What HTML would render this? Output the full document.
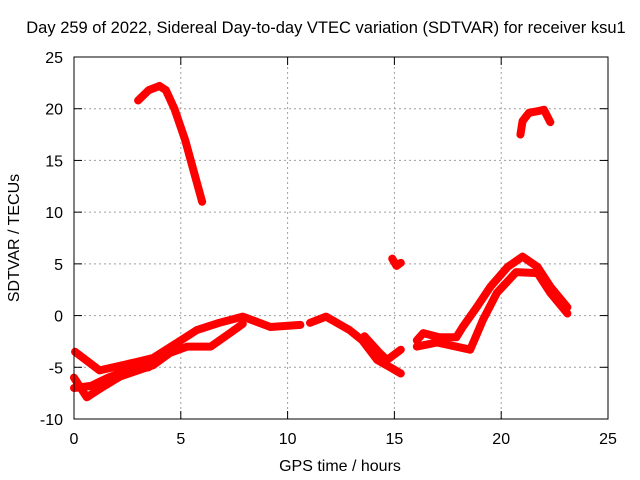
<!DOCTYPE html>
<html><head><meta charset="utf-8"><style>
body{margin:0;background:#fff}
svg{display:block;font-family:"Liberation Sans",sans-serif}
</style></head><body>
<svg id="chart" width="640" height="480" viewBox="0 0 640 480">
<rect width="640" height="480" fill="#fff"/>
<text x="326" y="33" font-size="16.5" text-anchor="middle">Day 259 of 2022, Sidereal Day-to-day VTEC variation (SDTVAR) for receiver ksu1</text>
<g id="grid"></g>
<g id="series"></g>
<rect x="74" y="57" width="534" height="362" fill="none" stroke="#000" stroke-width="1"/>
<g id="ticks"></g>
<text x="340" y="471" font-size="16" text-anchor="middle">GPS time / hours</text>
<text x="0" y="0" font-size="16" text-anchor="middle" transform="translate(19,238) rotate(-90)">SDTVAR / TECUs</text>
</svg>
<script>
const xTicks=[0,5,10,15,20,25];
const yTicks=[-10,-5,0,5,10,15,20,25];
const arcMorning=[[3.0,20.8],[3.5,21.8],[4.0,22.2],[4.3,21.8],[4.7,20],[5.2,17],[5.6,14],[6.0,11]];
const arcEvening=[[20.9,17.5],[21.0,18.8],[21.3,19.6],[21.8,19.8],[22.0,19.9],[22.3,18.7]];
const blob15=[[14.9,5.5],[15.1,4.8],[15.3,5.1]];
const upperStrand=[[0.05,-3.5],[1.2,-5.3],[2.9,-4.5],[3.7,-4.1],[5.0,-2.4],[5.75,-1.4],[6.8,-0.7],[7.9,-0.1],[9.2,-1.1],[10.6,-0.9]];
const lowerStrand=[[0.0,-6.0],[0.6,-7.9],[1.35,-6.9],[2.15,-5.9],[3.7,-4.8],[4.5,-3.6],[5.3,-3.0],[6.4,-3.0],[7.3,-1.7],[7.9,-0.8]];
const midStrand=[[0.0,-7.0],[0.8,-6.8],[1.6,-6.0],[2.5,-5.3],[3.5,-5.0]];
const noonStrand=[[11.05,-0.7],[11.8,-0.1],[12.9,-1.4],[13.5,-2.4],[14.2,-4.3],[14.8,-5.0],[15.3,-5.6]];
const noonStrand2=[[13.6,-2.0],[14.3,-3.6],[14.65,-4.3],[15.3,-3.3]];
const afternoon=[[16.05,-2.4],[16.35,-1.7],[17.1,-2.1],[17.9,-2.1],[18.2,-1.1],[18.85,0.8],[19.5,2.8],[20.3,4.7],[21.0,5.7],[21.7,4.7],[22.3,2.8],[23.1,0.8]];
const afternoonLow=[[16.05,-3.0],[17.0,-2.6],[18.55,-3.3],[19.15,-0.4],[19.8,2.2],[20.7,4.2],[21.7,4.1],[22.3,2.2],[23.1,0.2]];
const allSeries=[arcMorning,arcEvening,blob15,upperStrand,lowerStrand,midStrand,noonStrand,noonStrand2,afternoon,afternoonLow];
const seriesNames=['arc-morning','arc-evening','blob-15h','upper-strand','lower-strand','mid-strand','noon-strand','noon-strand-2','afternoon-strand','afternoon-low-strand'];
const X=h=>74+h*534/25;
const Y=v=>419-(v+10)*362/35;
const NS='http://www.w3.org/2000/svg';
const grid=document.getElementById('grid'),ticks=document.getElementById('ticks'),ser=document.getElementById('series');
function mk(tag,attrs,parent){const e=document.createElementNS(NS,tag);for(const k in attrs)e.setAttribute(k,attrs[k]);parent.appendChild(e);return e;}
xTicks.forEach(t=>{
  const x=X(t);
  if(t>0&&t<25){const g=mk('line',{x1:x,x2:x,y1:57,y2:419,stroke:'#a0a0a0','stroke-dasharray':'2,3'},grid);
  
  }
  const l=mk('line',{x1:x,x2:x,y1:419,y2:411,stroke:'#000'},ticks);
  
  
  const l2=mk('line',{x1:x,x2:x,y1:57,y2:65,stroke:'#000'},ticks);
  
  
  const tx=mk('text',{x:x,y:444,'font-size':16,'text-anchor':'middle'},ticks);tx.textContent=t;
  
  
});
yTicks.forEach(t=>{
  const y=Y(t);
  if(t>-10&&t<25){const g=mk('line',{x1:74,x2:608,y1:y,y2:y,stroke:'#a0a0a0','stroke-dasharray':'2,3'},grid);
  
  }
  const l=mk('line',{x1:74,x2:82,y1:y,y2:y,stroke:'#000'},ticks);
  
  
  const l2=mk('line',{x1:600,x2:608,y1:y,y2:y,stroke:'#000'},ticks);
  
  
  const tx=mk('text',{x:63,y:y+6,'font-size':16,'text-anchor':'end'},ticks);tx.textContent=t;
  
  
});
allSeries.forEach((s,i)=>{
  const p=mk('polyline',{points:s.map(d=>X(d[0])+','+Y(d[1])).join(' '),fill:'none',stroke:'#ff0000','stroke-width':8,'stroke-linejoin':'round','stroke-linecap':'round'},ser);
  
  
});
</script>
</body></html>
